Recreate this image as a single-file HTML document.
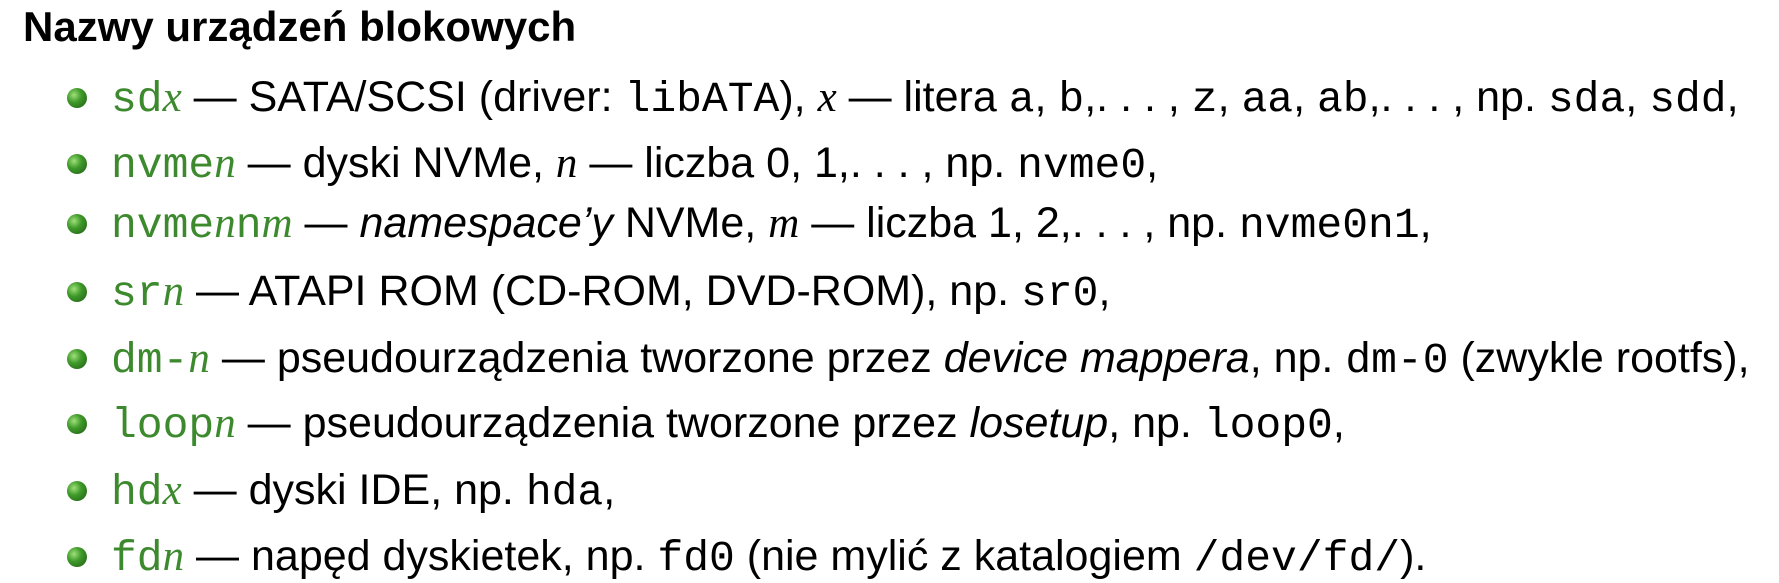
<!DOCTYPE html>
<html><head><meta charset="utf-8"><style>
body{margin:0;width:1779px;height:577px;background:#fff;position:relative;overflow:hidden;font-family:"Liberation Sans",sans-serif;color:#000}
.t{position:absolute;left:23px;top:6px;font-size:42px;font-weight:bold;line-height:42px;white-space:nowrap}
.l{position:absolute;left:111px;font-size:43px;line-height:43px;white-space:nowrap}
.b{position:absolute;left:67px;width:20px;height:20px;border-radius:50%;background:radial-gradient(circle at 35% 35%,#9fe07a 0%,#3f9a2a 40%,#1e5a12 100%)}
.g{color:#3d8a2e}
.m{font-family:"Liberation Mono",monospace}
.i{font-family:"Liberation Serif",serif;font-style:italic}
em{font-style:italic}
</style></head><body>
<div class="t">Nazwy urządzeń blokowych</div>

<div class="b" style="top:88px"></div>
<div class="l" style="top:76px"><span class="g m">sd<span class="i">x</span></span> — SATA/SCSI (driver: <span class="m">libATA</span>), <span class="i">x</span> — litera <span class="m">a</span>, <span class="m">b</span>,. . . , <span class="m">z</span>, <span class="m">aa</span>, <span class="m">ab</span>,. . . , np. <span class="m">sda</span>, <span class="m">sdd</span>,</div>

<div class="b" style="top:154px"></div>
<div class="l" style="top:142px"><span class="g m">nvme<span class="i">n</span></span> — dyski NVMe, <span class="i">n</span> — liczba 0, 1,. . . , np. <span class="m">nvme0</span>,</div>

<div class="b" style="top:214px"></div>
<div class="l" style="top:202px"><span class="g m">nvme<span class="i">n</span>n<span class="i">m</span></span> — <em>namespace’y</em> NVMe, <span class="i">m</span> — liczba 1, 2,. . . , np. <span class="m">nvme0n1</span>,</div>

<div class="b" style="top:282px"></div>
<div class="l" style="top:270px"><span class="g m">sr<span class="i">n</span></span> — ATAPI ROM (CD-ROM, DVD-ROM), np. <span class="m">sr0</span>,</div>

<div class="b" style="top:349px"></div>
<div class="l" style="top:337px"><span class="g m">dm-<span class="i">n</span></span> — pseudourządzenia tworzone przez <em>device mappera</em>, np. <span class="m">dm-0</span> (zwykle rootfs),</div>

<div class="b" style="top:414px"></div>
<div class="l" style="top:402px"><span class="g m">loop<span class="i">n</span></span> — pseudourządzenia tworzone przez <em>losetup</em>, np. <span class="m">loop0</span>,</div>

<div class="b" style="top:481px"></div>
<div class="l" style="top:469px"><span class="g m">hd<span class="i">x</span></span> — dyski IDE, np. <span class="m">hda</span>,</div>

<div class="b" style="top:547px"></div>
<div class="l" style="top:535px"><span class="g m">fd<span class="i">n</span></span> — napęd dyskietek, np. <span class="m">fd0</span> (nie mylić z katalogiem <span class="m">/dev/fd/</span>).</div>
</body></html>
